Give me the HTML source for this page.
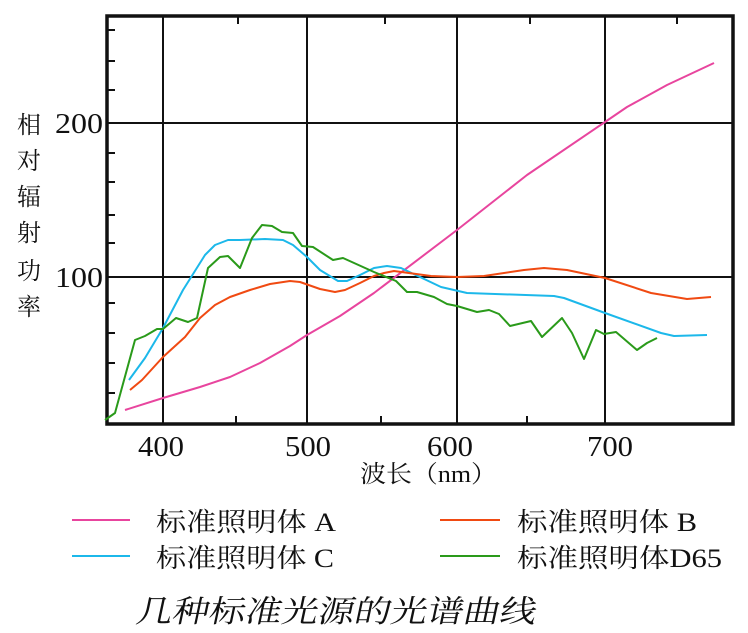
<!DOCTYPE html>
<html><head><meta charset="utf-8"><style>
body{margin:0;background:#fff;}
svg{display:block;}
</style></head><body>
<svg width="748" height="633" viewBox="0 0 748 633" xmlns="http://www.w3.org/2000/svg">
<g stroke="#111" fill="none">
<rect x="107" y="16" width="626" height="408" stroke-width="3.5"/>
<g stroke-width="2">
<line x1="163" y1="16" x2="163" y2="424"/><line x1="307" y1="16" x2="307" y2="424"/>
<line x1="457" y1="16" x2="457" y2="424"/><line x1="605" y1="16" x2="605" y2="424"/>
<line x1="107" y1="123" x2="733" y2="123"/><line x1="107" y1="277" x2="733" y2="277"/>
</g>
<g stroke-width="2">
<path d="M107 30h8M107 61h8M107 90h8M107 153h8M107 182h8M107 215h8M107 243h8M107 303h8M107 333h8M107 363h8M107 393h8"/>
<path d="M238 16v8M385 16v8M530 16v8M677 16v8M236 424v-8M381 424v-8M527 424v-8"/>
</g>
</g>
<g fill="none" stroke-width="2" stroke-linejoin="round">
<polyline stroke="#e8459e" points="125,410 163,398 200,387 230,377 260,363 290,346 307,335 340,316 374,293 457,230 527,175 605,122 627,107 667,85 714,63"/>
<polyline stroke="#1cb8ea" points="129,380 145,358 163,328 183,290 205,255 215,245 228,240 240,240 265,239 283,240 293,245 307,257 320,270 338,281 347,281 360,275 374,268 387,266 401,268 441,287 467,293 554,296 564,298 605,313 661,333 674,336 707,335"/>
<polyline stroke="#f04a12" points="130,390 142,380 163,357 185,337 200,318 215,305 230,297 250,290 270,284 290,281 300,282 320,289 335,292 345,290 360,283 374,276 384,273 394,271 431,276 457,277 484,276 524,270 544,268 567,270 605,278 651,293 687,299 711,297"/>
<polyline stroke="#2a9a1a" points="105,420 115,413 135,340 145,336 157,329 163,329 176,318 188,322 197,318 208,268 220,257 228,256 240,268 252,238 262,225 272,226 282,232 293,233 302,246 313,247 333,260 343,258 374,272 396,281 407,292 417,292 434,297 447,304 457,306 477,312 489,310 499,314 510,326 531,321 542,337 562,318 572,333 584,359 596,330 604,334 616,332 637,350 647,343 657,338"/>
</g>
<g font-family="Liberation Serif, serif" font-size="29" fill="#111">
<text x="55" y="133" textLength="48" lengthAdjust="spacingAndGlyphs">200</text>
<text x="55" y="287" textLength="48" lengthAdjust="spacingAndGlyphs">100</text>
<text x="138" y="456" textLength="46" lengthAdjust="spacingAndGlyphs">400</text>
<text x="285" y="456" textLength="46" lengthAdjust="spacingAndGlyphs">500</text>
<text x="427" y="456" textLength="46" lengthAdjust="spacingAndGlyphs">600</text>
<text x="587" y="456" textLength="46" lengthAdjust="spacingAndGlyphs">700</text>
</g>
<g font-family="Liberation Serif, 'Noto Serif CJK SC', serif" font-size="24" fill="#111">
<text x="17" y="133">相</text><text x="17" y="169">对</text><text x="17" y="205">辐</text>
<text x="17" y="241">射</text><text x="17" y="279">功</text><text x="17" y="315">率</text>
<text x="360" y="482" textLength="137" lengthAdjust="spacingAndGlyphs">波长（nm）</text>
<text x="156" y="531" font-size="26" textLength="180" lengthAdjust="spacingAndGlyphs">标准照明体 A</text>
<text x="517" y="531" font-size="26" textLength="180" lengthAdjust="spacingAndGlyphs">标准照明体 B</text>
<text x="156" y="567" font-size="26" textLength="178" lengthAdjust="spacingAndGlyphs">标准照明体 C</text>
<text x="517" y="567" font-size="26" textLength="205" lengthAdjust="spacingAndGlyphs">标准照明体D65</text>
</g>
<g stroke-width="2">
<line x1="72" y1="520" x2="130" y2="520" stroke="#e8459e"/>
<line x1="440" y1="520" x2="500" y2="520" stroke="#f04a12"/>
<line x1="72" y1="556" x2="130" y2="556" stroke="#1cb8ea"/>
<line x1="440" y1="556" x2="500" y2="556" stroke="#2a9a1a"/>
</g>
<text x="267" y="622" font-family="Liberation Serif, 'Noto Serif CJK SC', serif" font-size="31" fill="#111" transform="skewX(-12)" textLength="400" lengthAdjust="spacingAndGlyphs">几种标准光源的光谱曲线</text>
</svg>
</body></html>
